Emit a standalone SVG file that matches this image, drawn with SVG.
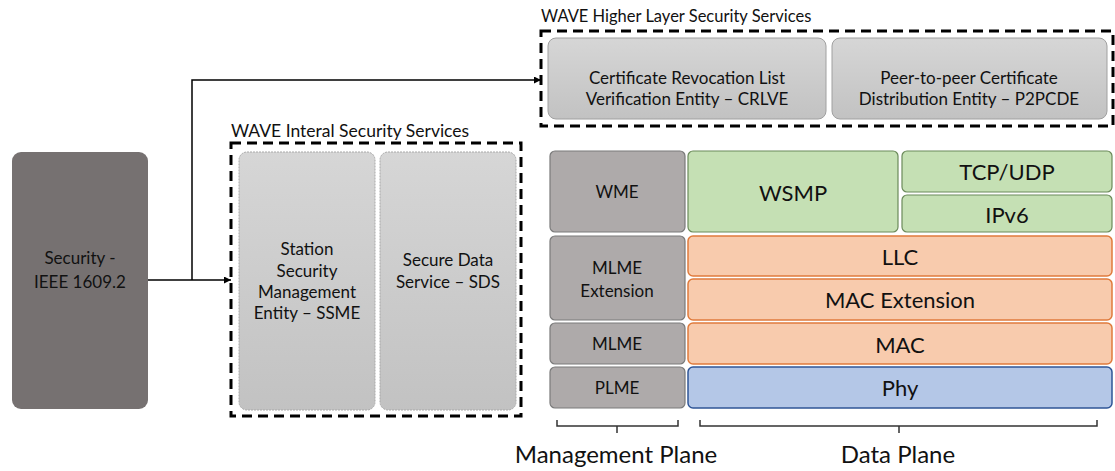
<svg xmlns="http://www.w3.org/2000/svg" width="1115" height="471" viewBox="0 0 1115 471">
  <defs>
    <linearGradient id="gSvc" x1="0" y1="0" x2="0" y2="1">
      <stop offset="0" stop-color="#d6d6d6"/>
      <stop offset="1" stop-color="#c2c2c2"/>
    </linearGradient>
    <marker id="arrow" viewBox="0 0 10 10" refX="10" refY="5" markerWidth="7" markerHeight="7" markerUnits="userSpaceOnUse" orient="auto">
      <path d="M0,0 L10,5 L0,10 z" fill="#000"/>
    </marker>
  </defs>
  <style>
    text { font-family: Lato, "Open Sans", "Liberation Sans", sans-serif; fill: #111; text-anchor: middle; dominant-baseline: central; }
    .t17 { font-size: 17px; }
    .t22 { font-size: 22px; }
    .cap { text-anchor: start; dominant-baseline: auto; }
    .plane { font-size: 24px; dominant-baseline: auto; }
    .dash { fill: none; stroke: #000; stroke-width: 3; stroke-dasharray: 10 6; }
    .svc { fill: url(#gSvc); stroke: #a0a0a0; stroke-width: 1; }
    .svcdot { fill: url(#gSvc); stroke: #a8a8a8; stroke-width: 1; stroke-dasharray: 2 1; }
    .mgmt { fill: #aeaaaa; stroke: #7a7a7a; stroke-width: 1.2; }
    .green { fill: #c5e0b4; stroke: #6b8a5a; stroke-width: 1.2; }
    .orange { fill: #f8cbad; stroke: #e07b3c; stroke-width: 1.5; }
    .blue { fill: #b4c7e7; stroke: #2f5597; stroke-width: 1.5; }
    .brace { fill: none; stroke: #333; stroke-width: 1.5; }
    .link { fill: none; stroke: #000; stroke-width: 1.5; }
  </style>

  <!-- Security source block -->
  <g id="security">
    <rect x="12" y="152" width="136" height="257" rx="9" fill="#767171"/>
    <text class="t17" x="80" y="257">Security -</text>
    <text class="t17" x="80" y="281">IEEE 1609.2</text>
  </g>

  <!-- Connectors -->
  <g id="connectors">
    <path class="link" d="M148,280 H231" marker-end="url(#arrow)"/>
    <path class="link" d="M192,280 V80 H541" marker-end="url(#arrow)"/>
  </g>

  <!-- Internal security services -->
  <g id="internal-services">
    <text class="cap" x="231" y="137" font-size="17.5">WAVE Interal Security Services</text>
    <rect class="dash" x="231" y="143" width="290" height="273"/>
  </g>
  <g id="ssme">
    <rect class="svcdot" x="239" y="152" width="136" height="258" rx="8"/>
    <text class="t17" x="307" y="248">Station</text>
    <text class="t17" x="307" y="270">Security</text>
    <text class="t17" x="307" y="291">Management</text>
    <text class="t17" x="307" y="312">Entity – SSME</text>
  </g>
  <g id="sds">
    <rect class="svcdot" x="380" y="152" width="136" height="258" rx="8"/>
    <text class="t17" x="448" y="259">Secure Data</text>
    <text class="t17" x="448" y="281">Service – SDS</text>
  </g>

  <!-- Higher layer security services -->
  <g id="higher-services">
    <text class="cap" x="541" y="22" font-size="16.5">WAVE Higher Layer Security Services</text>
    <rect class="dash" x="541" y="31" width="572" height="95"/>
  </g>
  <g id="crlve">
    <rect class="svc" x="548" y="38" width="278" height="81" rx="8"/>
    <text class="t17" x="687" y="77">Certificate Revocation List</text>
    <text class="t17" x="687" y="98">Verification Entity – CRLVE</text>
  </g>
  <g id="p2pcde">
    <rect class="svc" x="832" y="38" width="275" height="81" rx="8"/>
    <text class="t17" x="969" y="77">Peer-to-peer Certificate</text>
    <text class="t17" x="969" y="98">Distribution Entity – P2PCDE</text>
  </g>

  <!-- Management plane -->
  <g id="wme">
    <rect class="mgmt" x="550" y="151" width="135" height="81" rx="5"/>
    <text class="t17" x="617" y="191">WME</text>
  </g>
  <g id="mlme-ext">
    <rect class="mgmt" x="550" y="236" width="135" height="84" rx="5"/>
    <text class="t17" x="617" y="267">MLME</text>
    <text class="t17" x="617" y="290">Extension</text>
  </g>
  <g id="mlme">
    <rect class="mgmt" x="550" y="323" width="135" height="41" rx="5"/>
    <text class="t17" x="617" y="343">MLME</text>
  </g>
  <g id="plme">
    <rect class="mgmt" x="550" y="367" width="135" height="41" rx="5"/>
    <text class="t17" x="617" y="387">PLME</text>
  </g>

  <!-- Data plane -->
  <g id="wsmp">
    <rect class="green" x="688" y="151" width="210" height="81" rx="5"/>
    <text class="t22" x="793" y="192">WSMP</text>
  </g>
  <g id="tcpudp">
    <rect class="green" x="902" y="151" width="210" height="41" rx="5"/>
    <text class="t22" x="1007" y="171">TCP/UDP</text>
  </g>
  <g id="ipv6">
    <rect class="green" x="902" y="195" width="210" height="37" rx="5"/>
    <text class="t22" x="1007" y="214">IPv6</text>
  </g>
  <g id="llc">
    <rect class="orange" x="688" y="236" width="424" height="40" rx="5"/>
    <text class="t22" x="900" y="256">LLC</text>
  </g>
  <g id="mac-ext">
    <rect class="orange" x="688" y="279" width="424" height="41" rx="5"/>
    <text class="t22" x="900" y="299">MAC Extension</text>
  </g>
  <g id="mac">
    <rect class="orange" x="688" y="323" width="424" height="41" rx="5"/>
    <text class="t22" x="900" y="344">MAC</text>
  </g>
  <g id="phy">
    <rect class="blue" x="688" y="367" width="424" height="41" rx="5"/>
    <text class="t22" x="900" y="387">Phy</text>
  </g>

  <!-- Plane braces -->
  <g id="management-plane">
    <path class="brace" d="M557,420 V426 H678 V420 M617,426 V433"/>
    <text class="plane" x="616" y="463">Management Plane</text>
  </g>
  <g id="data-plane">
    <path class="brace" d="M700,420 V426 H1097 V420 M899,426 V433"/>
    <text class="plane" x="898" y="463">Data Plane</text>
  </g>
</svg>
